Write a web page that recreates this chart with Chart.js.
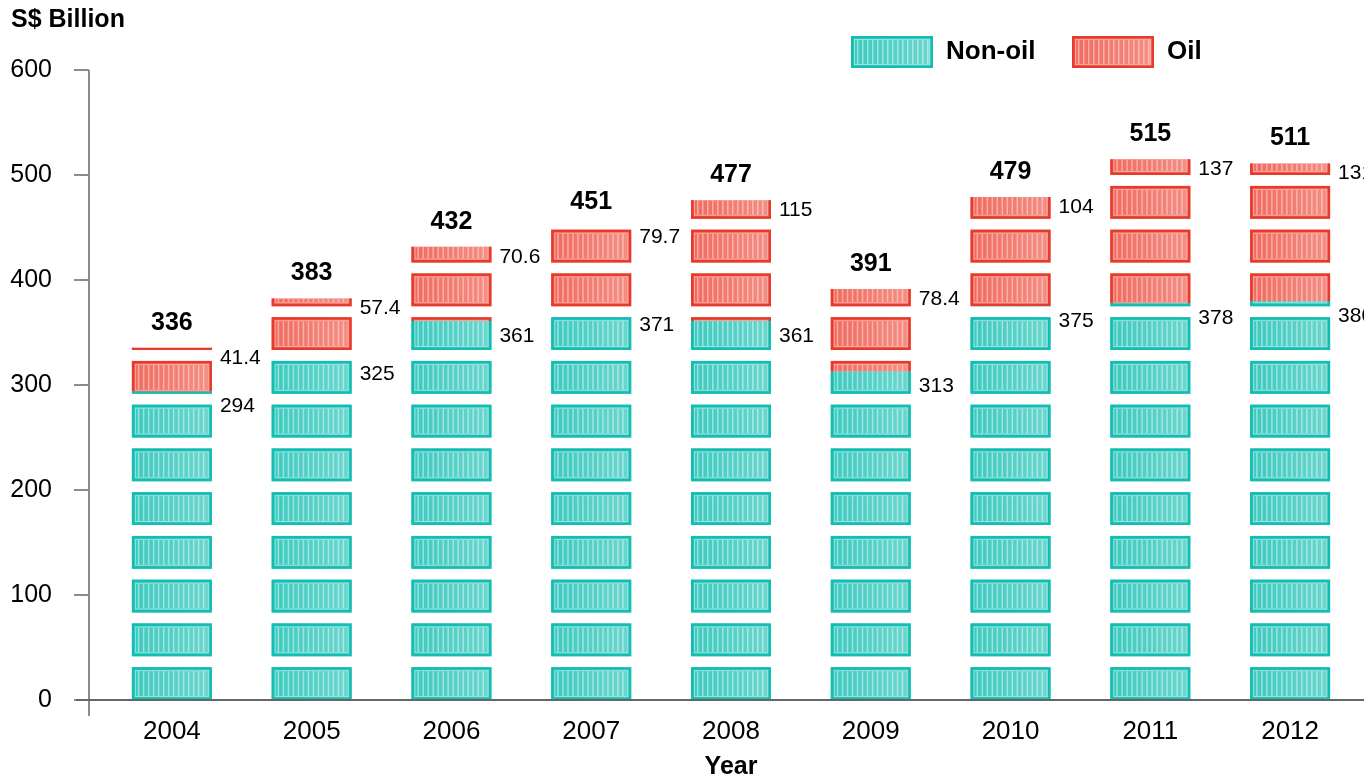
<!DOCTYPE html>
<html>
<head>
<meta charset="utf-8">
<script src="https://cdn.jsdelivr.net/npm/chart.js@4"></script>
<style>
  html, body { margin: 0; padding: 0; background: #fff; }
  #wrap { width: 1364px; height: 783px; }
</style>
</head>
<body>
<div id="wrap"><canvas id="exportChart" width="1364" height="783"></canvas></div>
<script>
// Domestic exports, S$ billion
const years = ['2004', '2005', '2006', '2007', '2008', '2009', '2010', '2011', '2012'];
const nonOil = [294, 325, 361, 371, 361, 313, 375, 378, 380];
const oil = [41.4, 57.4, 70.6, 79.7, 115, 78.4, 104, 137, 131];
const totals = [336, 383, 432, 451, 477, 391, 479, 515, 511];
const yMin = 0, yMax = 600, yStep = 100;

const FONT = '"Liberation Sans", Arial, sans-serif';
const BLOCK = 500 / 12;   // one container block, in data units
const palette = {
    teal: { edge: '#12bdb2', fill: '#3cc9bf', light: '#93e3dc' },
    red: { edge: '#e83a2b', fill: '#f06a5e', light: '#fba79e' }
};

function drawBlock(ctx, x, y, w, h, c) {
    ctx.fillStyle = c.fill;
    ctx.fillRect(x, y, w, h);
    // vertical stripes
    ctx.fillStyle = c.light;
    for (let sx = x + 6; sx < x + w - 5; sx += 5) {
        ctx.fillRect(sx, y + 4, 1.5, h - 8);
    }
    // lighter towards the right
    const g = ctx.createLinearGradient(x, 0, x + w, 0);
    g.addColorStop(0, 'rgba(255,255,255,0)');
    g.addColorStop(1, 'rgba(255,255,255,0.25)');
    ctx.fillStyle = g;
    ctx.fillRect(x, y, w, h);
    ctx.strokeStyle = c.light;
    ctx.lineWidth = 1;
    ctx.strokeRect(x + 3.5, y + 3.5, w - 7, h - 7);
    ctx.strokeStyle = c.edge;
    ctx.lineWidth = 2.5;
    ctx.strokeRect(x + 1.25, y + 1.25, w - 2.5, h - 2.5);
}

const containerBars = {
    id: 'containerBars',
    afterDatasetsDraw(chart) {
        const ctx = chart.ctx;
        const ys = chart.scales.y;
        chart.data.datasets.forEach((ds, di) => {
            const meta = chart.getDatasetMeta(di);
            meta.data.forEach((bar, i) => {
                const p = bar.getProps(['x', 'y', 'base', 'width'], true);
                const left = p.x - p.width / 2;
                const top = Math.min(p.y, p.base);
                const bottom = Math.max(p.y, p.base);
                ctx.save();
                ctx.beginPath();
                ctx.rect(left - 2, top, p.width + 4, bottom - top);
                ctx.clip();
                for (let k = 0; k * BLOCK < yMax; k++) {
                    const b0 = ys.getPixelForValue(k * BLOCK);
                    const b1 = ys.getPixelForValue(k * BLOCK + BLOCK * 0.75);
                    if (b1 > bottom || b0 < top) continue;
                    drawBlock(ctx, left, b1, p.width, b0 - b1, ds.pal);
                }
                ctx.restore();
            });
        });

        // value labels
        ctx.save();
        ctx.fillStyle = '#000';
        const m0 = chart.getDatasetMeta(0), m1 = chart.getDatasetMeta(1);
        years.forEach((yr, i) => {
            const a = m0.data[i], b = m1.data[i];
            const right = a.x + a.width / 2 + 8;
            ctx.font = '21px ' + FONT;
            ctx.textAlign = 'left';
            ctx.textBaseline = 'middle';
            ctx.fillText(String(nonOil[i]), right, a.y + 15);
            ctx.fillText(String(oil[i]), right, b.y + 10);
            ctx.font = 'bold 25px ' + FONT;
            ctx.textAlign = 'center';
            ctx.fillText(String(totals[i]), b.x, b.y - 25);
        });
        ctx.restore();
    },
    afterDraw(chart) {
        const ctx = chart.ctx;
        const ys = chart.scales.y;
        const area = chart.chartArea;
        const axisX = area.left - 13;
        ctx.save();
        // y axis line and ticks
        ctx.strokeStyle = '#8c8c8c';
        ctx.lineWidth = 2;
        ctx.beginPath();
        ctx.moveTo(axisX, ys.getPixelForValue(yMax));
        ctx.lineTo(axisX, area.bottom + 16);
        ys.ticks.forEach(t => {
            const py = ys.getPixelForValue(t.value);
            ctx.moveTo(axisX - 15, py);
            ctx.lineTo(axisX, py);
        });
        ctx.stroke();
        // x axis line
        ctx.strokeStyle = '#666';
        ctx.beginPath();
        ctx.moveTo(axisX - 13, area.bottom);
        ctx.lineTo(chart.width, area.bottom);
        ctx.stroke();

        // unit label
        ctx.fillStyle = '#000';
        ctx.font = 'bold 25px ' + FONT;
        ctx.textAlign = 'left';
        ctx.textBaseline = 'middle';
        ctx.fillText('S$ Billion', 11, 20);

        // legend
        const items = [
            { x: 851, ds: chart.data.datasets[0] },
            { x: 1072, ds: chart.data.datasets[1] }
        ];
        ctx.font = 'bold 26px ' + FONT;
        items.forEach(it => {
            drawBlock(ctx, it.x, 36, 82, 32, it.ds.pal);
            ctx.fillStyle = '#000';
            ctx.fillText(it.ds.label, it.x + 95, 52);
        });
        ctx.restore();
    }
};

const ctx = document.getElementById('exportChart').getContext('2d');
const exportChart = new Chart(ctx, {
    type: 'bar',
    data: {
        labels: years,
        datasets: [{
            label: 'Non-oil',
            data: nonOil,
            pal: palette.teal,
            backgroundColor: 'rgba(0,0,0,0)',
            borderWidth: 0,
            barThickness: 80
        }, {
            label: 'Oil',
            data: oil,
            pal: palette.red,
            backgroundColor: 'rgba(0,0,0,0)',
            borderWidth: 0,
            barThickness: 80
        }]
    },
    options: {
        responsive: false,
        animation: false,
        events: [],
        layout: { padding: { left: 0, right: 4, top: 70, bottom: 1 } },
        plugins: {
            legend: { display: false },
            tooltip: { enabled: false }
        },
        scales: {
            x: {
                stacked: true,
                offset: true,
                grid: { display: false, drawTicks: false },
                border: { display: false },
                ticks: { color: '#000', font: { family: FONT, size: 26 }, padding: 16 },
                title: {
                    display: true,
                    text: 'Year',
                    color: '#000',
                    font: { family: FONT, size: 25, weight: 'bold' },
                    padding: { top: 15, bottom: 0 }
                },
                afterFit(scale) { scale.height = 82; }
            },
            y: {
                stacked: true,
                min: yMin,
                max: yMax,
                grid: { display: false, drawTicks: false },
                border: { display: false },
                ticks: { stepSize: yStep, color: '#000', font: { family: FONT, size: 25 }, padding: 50 },
                afterFit(scale) { scale.width = 102; }
            }
        }
    },
    plugins: [containerBars]
});
</script>
</body>
</html>
